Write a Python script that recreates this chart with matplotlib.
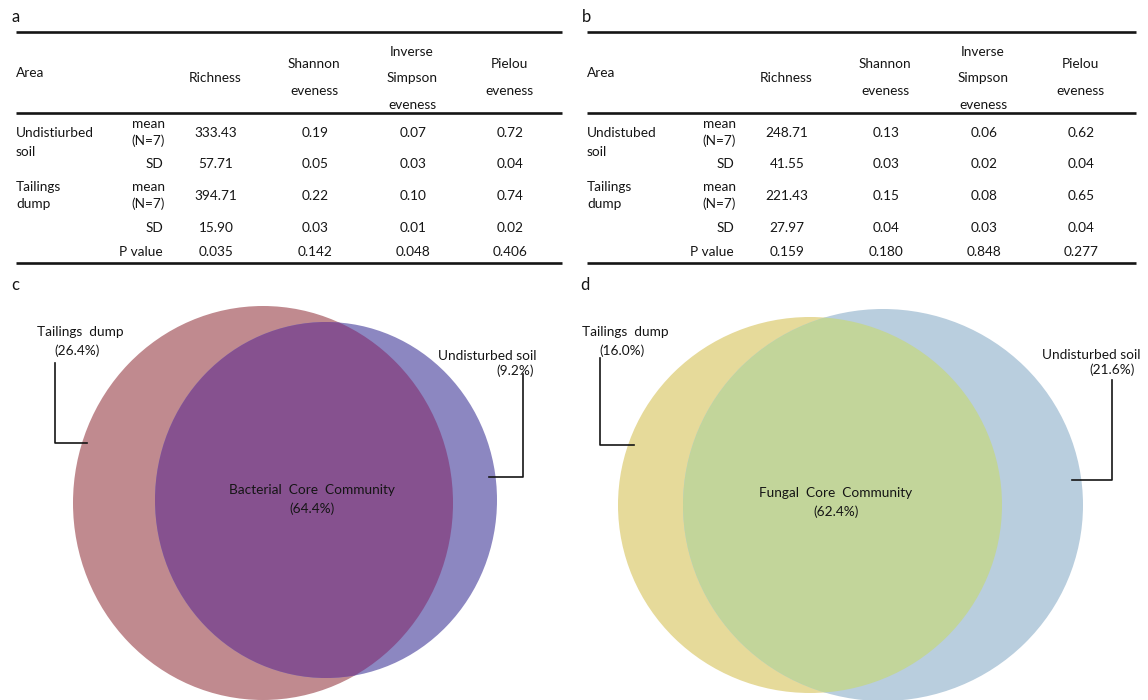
import matplotlib
matplotlib.use('Agg')
import matplotlib.pyplot as plt
from matplotlib.patches import Ellipse

plt.rcParams['font.family'] = ['Lato', 'DejaVu Sans']

BLACK = '#151515'

# ── table data ──
metrics = ['Richness', 'Shannon eveness', 'Inverse Simpson eveness', 'Pielou eveness']
header_lines = [['Richness'], ['Shannon', 'eveness'], ['Inverse', 'Simpson', 'eveness'], ['Pielou', 'eveness']]

bac_undist_mean = [333.43, 0.19, 0.07, 0.72]
bac_undist_sd   = [57.71, 0.05, 0.03, 0.04]
bac_tail_mean   = [394.71, 0.22, 0.10, 0.74]
bac_tail_sd     = [15.90, 0.03, 0.01, 0.02]
bac_pvalue      = [0.035, 0.142, 0.048, 0.406]

fun_undist_mean = [248.71, 0.13, 0.06, 0.62]
fun_undist_sd   = [41.55, 0.03, 0.02, 0.04]
fun_tail_mean   = [221.43, 0.15, 0.08, 0.65]
fun_tail_sd     = [27.97, 0.04, 0.03, 0.04]
fun_pvalue      = [0.159, 0.180, 0.848, 0.277]

# ── venn data ──
bac_labels = ['Tailings  dump', 'Undisturbed soil', 'Bacterial  Core  Community']
bac_pct    = [26.4, 9.2, 64.4]
fun_labels = ['Tailings  dump', 'Undisturbed soil', 'Fungal  Core  Community']
fun_pct    = [16.0, 21.6, 62.4]

W, H = 1148, 700
fig = plt.figure(figsize=(W / 100, H / 100), dpi=100)
ax = fig.add_axes([0, 0, 1, 1])
ax.set_xlim(0, W); ax.set_ylim(H, 0)
ax.axis('off')

FS = 9.8


def draw_table(x0, width, letter, undist_name, rows):
    ax.text(x0 - 5, 17, letter, fontsize=12, color=BLACK, va='center', ha='left')
    for y in (32, 113, 263):
        ax.plot([x0, x0 + width], [y, y], color=BLACK, lw=1.9, solid_capstyle='butt')
    ax.text(x0, 73, 'Area', fontsize=FS, color=BLACK, va='center')
    col_x = [x0 + d for d in (199, 298, 396, 493)]
    line_y = {1: [78], 2: [64, 91], 3: [52, 78, 105]}
    for cx, lines in zip(col_x, header_lines):
        for txt, yy in zip(lines, line_y[len(lines)]):
            ax.text(cx, yy, txt, fontsize=FS, color=BLACK, ha='center', va='center')

    # group labels
    ax.text(x0, 133, undist_name, fontsize=FS, color=BLACK, va='center')
    ax.text(x0, 152, 'soil', fontsize=FS, color=BLACK, va='center')
    ax.text(x0, 187, 'Tailings', fontsize=FS, color=BLACK, va='center')
    ax.text(x0, 204, 'dump', fontsize=FS, color=BLACK, va='center')

    stat_x = x0 + 149
    row_y = [133, 164, 196, 228, 252]
    stat_lbl = [('mean', '(N=7)'), 'SD', ('mean', '(N=7)'), 'SD', 'P value']
    for yy, lbl, vals in zip(row_y, stat_lbl, rows):
        if isinstance(lbl, tuple):
            ax.text(stat_x, yy - 9, lbl[0], fontsize=FS, color=BLACK, ha='right', va='center')
            ax.text(stat_x, yy + 8, lbl[1], fontsize=FS, color=BLACK, ha='right', va='center')
        else:
            ax.text(stat_x - 2, yy, lbl, fontsize=FS, color=BLACK, ha='right', va='center')
        dec = 3 if lbl == 'P value' else 2
        for cx, v in zip(col_x, vals):
            ax.text(cx + 1, yy, f'{v:.{dec}f}', fontsize=FS, color=BLACK, ha='center', va='center')


draw_table(16, 546, 'a', 'Undistiurbed',
           [bac_undist_mean, bac_undist_sd, bac_tail_mean, bac_tail_sd, bac_pvalue])
draw_table(587, 549, 'b', 'Undistubed',
           [fun_undist_mean, fun_undist_sd, fun_tail_mean, fun_tail_sd, fun_pvalue])


def draw_venn(letter, lpos, e_left, e_right, colors, labels, pct, lbl_pos, right_ha):
    ax.text(lpos[0], lpos[1], letter, fontsize=12, color=BLACK, va='center')
    (cx1, cy1, w1, h1), (cx2, cy2, w2, h2) = e_left, e_right
    e1 = Ellipse((cx1, cy1), w1, h1, facecolor=colors[0], edgecolor='none', zorder=1)
    e2 = Ellipse((cx2, cy2), w2, h2, facecolor=colors[1], edgecolor='none', zorder=2)
    ax.add_patch(e1); ax.add_patch(e2)
    e3 = Ellipse((cx1, cy1), w1, h1, facecolor=colors[2], edgecolor='none', zorder=3)
    ax.add_patch(e3)
    e3.set_clip_path(e2)

    (tx, ty, lx, ly0, ly1, lx2), (ux, uy, px, rx, ry0, ry1, rx2), (mx, my) = lbl_pos
    ax.text(tx, ty, labels[0], fontsize=FS, color=BLACK, ha='center', va='center', zorder=5)
    ax.text(tx - 3, ty + 19, f'({pct[0]:.1f}%)', fontsize=FS, color=BLACK, ha='center', va='center', zorder=5)
    ax.plot([lx, lx, lx2], [ly0, ly1, ly1], color=BLACK, lw=1.2, zorder=5)
    ax.text(ux, uy, labels[1], fontsize=FS, color=BLACK, ha='right', va='center', zorder=5)
    ax.text(px, uy + 15, f'({pct[1]:.1f}%)', fontsize=FS, color=BLACK, ha=right_ha, va='center', zorder=5)
    ax.plot([rx, rx, rx2], [ry0, ry1, ry1], color=BLACK, lw=1.2, zorder=5)
    ax.text(mx, my, labels[2], fontsize=FS, color=BLACK, ha='center', va='center', zorder=5)
    ax.text(mx, my + 19, f'({pct[2]:.1f}%)', fontsize=FS, color=BLACK, ha='center', va='center', zorder=5)


draw_venn('c', (11, 285),
          (263, 503, 380, 394), (326, 500, 342, 356),
          ['#C08A8F', '#8C87C1', '#86518F'],
          bac_labels, bac_pct,
          [(80, 332, 55, 363, 443, 87),
           (536, 356, 534, 523, 374, 477, 489),
           (312, 490)],
          'right')

draw_venn('d', (580, 285),
          (810, 505, 384, 376), (883, 505, 400, 392),
          ['#E6DA9A', '#B9CEDE', '#C2D59A'],
          fun_labels, fun_pct,
          [(625, 332, 600, 358, 445, 634),
           (1140, 355, 1112, 1112, 380, 480, 1072),
           (836, 493)],
          'center')

fig.savefig('out.png', dpi=100, facecolor='white')
